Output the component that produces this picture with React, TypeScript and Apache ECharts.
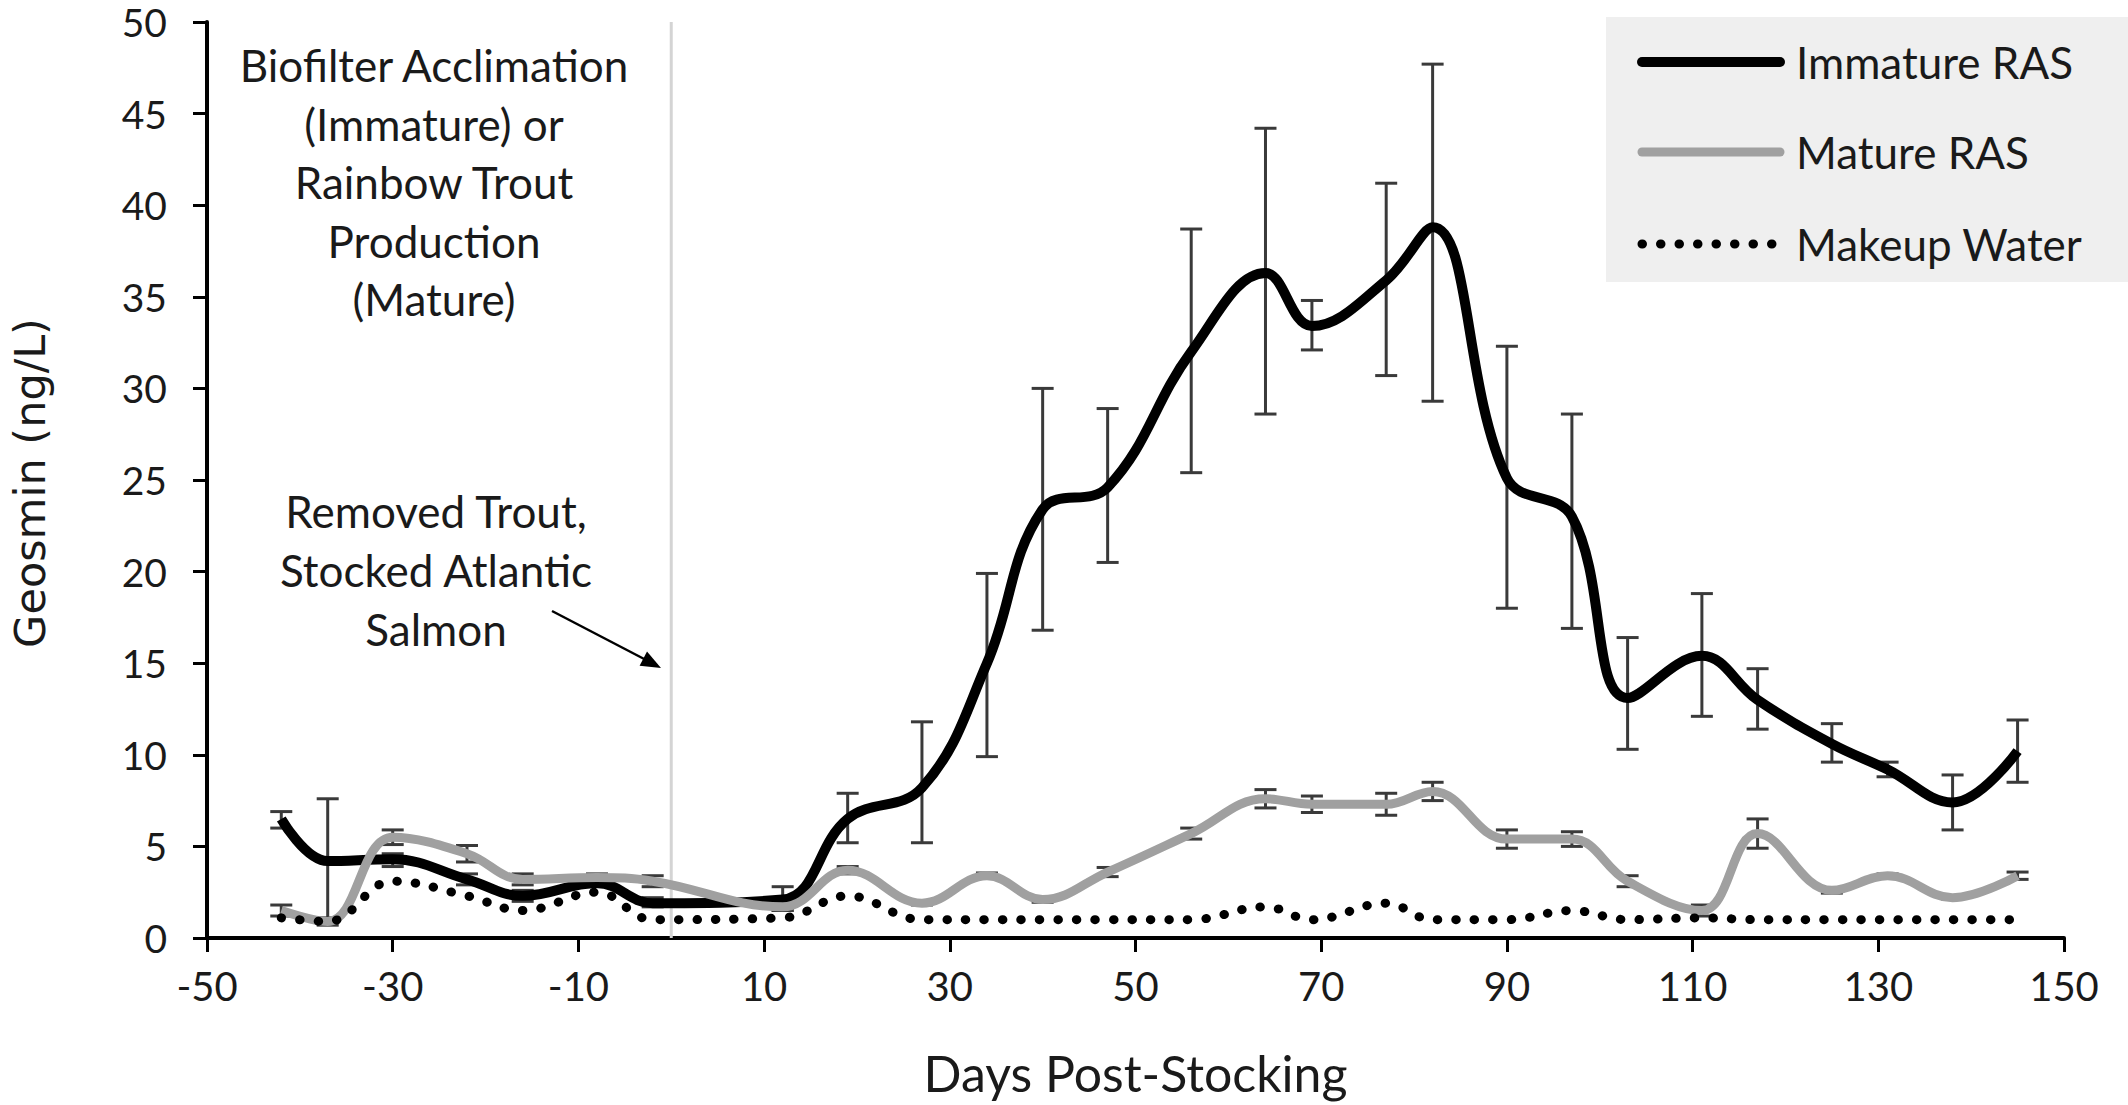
import { useEffect, useRef } from "react";
import * as echarts from "echarts";

const days = [-42, -37, -30, -22, -16, -8, -2, 12, 19, 27, 34, 40, 47, 56, 64, 69, 77, 82, 90, 97, 103, 111, 117, 125, 131, 138, 145];
const immature = [6.5, 4.2, 4.3, 3.2, 2.3, 3.0, 1.9, 2.1, 6.5, 8.2, 15.0, 23.4, 24.6, 32.0, 36.3, 33.4, 35.9, 38.8, 25.1, 23.0, 13.1, 15.4, 13.0, 10.6, 9.2, 7.4, 10.2];
const immatureLow = [6.0, 1.0, 3.9, 2.9, 2.0, 2.8, 1.7, 1.5, 5.2, 5.2, 9.9, 16.8, 20.5, 25.4, 28.6, 32.1, 30.7, 29.3, 18.0, 16.9, 10.3, 12.1, 11.4, 9.6, 8.8, 5.9, 8.5];
const immatureHigh = [6.9, 7.6, 4.6, 3.5, 2.6, 3.2, 2.2, 2.8, 7.9, 11.8, 19.9, 30.0, 28.9, 38.7, 44.2, 34.8, 41.2, 47.7, 32.3, 28.6, 16.4, 18.8, 14.7, 11.7, 9.6, 8.9, 11.9];
const mature = [1.5, 0.9, 5.5, 4.6, 3.2, 3.3, 3.1, 1.7, 3.7, 1.9, 3.4, 2.1, 3.6, 5.7, 7.6, 7.3, 7.3, 8.0, 5.4, 5.4, 3.1, 1.5, 5.7, 2.6, 3.4, 2.2, 3.4];
const matureErr = [0.3, 0.2, 0.4, 0.45, 0.3, 0.2, 0.3, 0.2, 0.2, 0.1, 0.15, 0.15, 0.25, 0.3, 0.5, 0.45, 0.6, 0.5, 0.5, 0.4, 0.3, 0.3, 0.8, 0.15, 0.1, 0.1, 0.2];
const makeup = [1.1, 0.9, 3.1, 2.3, 1.5, 2.5, 1.0, 1.1, 2.3, 1.0, 1.0, 1.0, 1.0, 1.0, 1.7, 1.0, 1.9, 1.0, 1.0, 1.5, 1.0, 1.1, 1.0, 1.0, 1.0, 1.0, 1.0];
const seriesNames = ["Immature RAS", "Mature RAS", "Makeup Water"];
const stockingDay = 0;
const dividerRange = [0, 50];

const FONT = "Lato, 'Liberation Sans', sans-serif";
const TEXT = "#1a1a1a";
const BLACK_W = 10;
const GRAY_W = 9;
const GRAY = "#a0a0a0";
const DOT_W = 9;
const DOT_DASH = [0.5, 18];

function errBars(name: string, low: number[], high: number[], color: string) {
  return {
    type: "custom",
    name,
    data: days.map((d, i) => [d, low[i], high[i]]),
    encode: { x: 0, y: [1, 2] },
    renderItem: (_params: any, api: any) => {
      const x = api.value(0);
      const lo = api.coord([x, api.value(1)]);
      const hi = api.coord([x, api.value(2)]);
      const w = 11;
      const st = { stroke: color, lineWidth: 3 };
      return {
        type: "group",
        children: [
          { type: "line", shape: { x1: lo[0], y1: lo[1], x2: hi[0], y2: hi[1] }, style: st },
          { type: "line", shape: { x1: lo[0] - w, y1: lo[1], x2: lo[0] + w, y2: lo[1] }, style: st },
          { type: "line", shape: { x1: hi[0] - w, y1: hi[1], x2: hi[0] + w, y2: hi[1] }, style: st },
        ],
      };
    },
  };
}

export default function App() {
  const ref = useRef<HTMLDivElement>(null);
  useEffect(() => {
    document.body.style.margin = "0";
    const chart = echarts.init(ref.current!, null, { renderer: "svg" });
    const legendRows = [62, 152, 244];
    const legendStyles = [
      { stroke: "#000", lineWidth: BLACK_W, lineCap: "round" },
      { stroke: GRAY, lineWidth: GRAY_W, lineCap: "round" },
      { stroke: "#000", lineWidth: DOT_W, lineCap: "round", lineDash: DOT_DASH },
    ];
    const legendGraphics: any[] = [
      { type: "rect", shape: { x: 1606, y: 17, width: 522, height: 265 }, style: { fill: "#efefef" }, z: 10 },
    ];
    seriesNames.forEach((n, i) => {
      legendGraphics.push({
        type: "line",
        shape: { x1: 1642, y1: legendRows[i], x2: 1780, y2: legendRows[i] },
        style: legendStyles[i],
        z: 11,
      });
      legendGraphics.push({
        type: "text",
        x: 1796,
        y: legendRows[i],
        style: { text: n, fontSize: 44, fontFamily: FONT, fill: TEXT, verticalAlign: "middle", align: "left" },
        z: 11,
      });
    });
    const option: any = {
      animation: false,
      backgroundColor: "#ffffff",
      grid: { left: 207, right: 64, top: 22, bottom: 167 },
      xAxis: {
        type: "value",
        min: -50,
        max: 150,
        interval: 20,
        name: "Days Post-Stocking",
        nameLocation: "middle",
        nameGap: 110,
        nameTextStyle: { fontSize: 50, fontFamily: FONT, color: TEXT },
        axisLine: { onZero: false, lineStyle: { color: "#000", width: 4 } },
        axisTick: { length: 14, lineStyle: { color: "#000", width: 3 } },
        axisLabel: { fontSize: 40, fontFamily: FONT, color: TEXT, margin: 28 },
        splitLine: { show: false },
      },
      yAxis: {
        type: "value",
        min: 0,
        max: 50,
        interval: 5,
        axisLine: { show: true, onZero: false, lineStyle: { color: "#000", width: 4 } },
        axisTick: { show: true, length: 14, lineStyle: { color: "#000", width: 3 } },
        axisLabel: { fontSize: 39, lineHeight: 34, fontFamily: FONT, color: TEXT, margin: 40 },
        splitLine: { show: false },
      },
      series: [
        {
          type: "line",
          name: "divider",
          data: dividerRange.map((v) => [stockingDay, v]),
          showSymbol: false,
          symbol: "none",
          lineStyle: { color: "#d4d4d4", width: 3 },
          silent: true,
          z: 1,
        },
        {
          type: "line",
          name: seriesNames[0],
          data: days.map((d, i) => [d, immature[i]]),
          smooth: 0.4,
          showSymbol: false,
          symbol: "none",
          lineStyle: { color: "#000000", width: BLACK_W },
          itemStyle: { color: "#000000" },
        },
        errBars("Immature RAS err", immatureLow, immatureHigh, "#3a3a3a"),
        {
          type: "line",
          name: seriesNames[1],
          data: days.map((d, i) => [d, mature[i]]),
          smooth: 0.4,
          showSymbol: false,
          symbol: "none",
          lineStyle: { color: GRAY, width: GRAY_W },
          itemStyle: { color: GRAY },
        },
        errBars(
          "Mature RAS err",
          mature.map((v, i) => v - matureErr[i]),
          mature.map((v, i) => v + matureErr[i]),
          "#3a3a3a"
        ),
        {
          type: "line",
          name: seriesNames[2],
          data: days.map((d, i) => [d, makeup[i]]),
          smooth: 0.4,
          showSymbol: false,
          symbol: "none",
          lineStyle: { color: "#000000", width: DOT_W, type: DOT_DASH, cap: "round" },
          itemStyle: { color: "#000000" },
        },
      ],
      graphic: [
        {
          type: "text",
          x: 30,
          y: 483,
          rotation: Math.PI / 2,
          style: {
            text: "Geosmin (ng/L)",
            align: "center",
            verticalAlign: "middle",
            fontSize: 43,
            fontFamily: "'DejaVu Sans', sans-serif",
            fill: TEXT,
          },
        },
        {
          type: "text",
          x: 434,
          y: 36,
          style: {
            text: "Biofilter Acclimation\n(Immature) or\nRainbow Trout\nProduction\n(Mature)",
            align: "center",
            verticalAlign: "top",
            fontSize: 44,
            fontFamily: FONT,
            lineHeight: 58.5,
            fill: TEXT,
          },
        },
        {
          type: "text",
          x: 436,
          y: 481,
          style: {
            text: "Removed Trout,\nStocked Atlantic\nSalmon",
            align: "center",
            verticalAlign: "top",
            fontSize: 44,
            fontFamily: FONT,
            lineHeight: 59,
            fill: TEXT,
          },
        },
        {
          type: "line",
          shape: { x1: 552, y1: 611, x2: 648, y2: 661 },
          style: { stroke: "#000", lineWidth: 2.5 },
        },
        {
          type: "polygon",
          shape: { points: [[661, 668], [639.6, 665.8], [647.0, 651.6]] },
          style: { fill: "#000" },
        },
        ...legendGraphics,
      ],
    };
    chart.setOption(option);
    return () => chart.dispose();
  }, []);
  return <div ref={ref} style={{ width: 2128, height: 1105 }} />;
}
